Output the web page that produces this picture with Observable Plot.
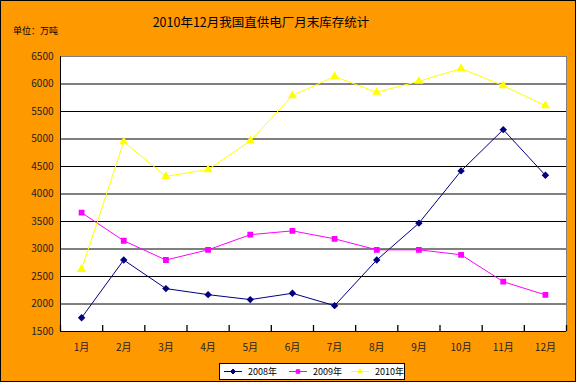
<!DOCTYPE html>
<html>
<head>
<meta charset="utf-8">
<script src="https://cdn.jsdelivr.net/npm/d3@7"></script>
<script src="https://cdn.jsdelivr.net/npm/@observablehq/plot@0.6"></script>
<style>
  html, body { margin: 0; padding: 0; background: #fff; }
  #wrap { position: relative; width: 579px; height: 386px; font-family: "Noto Sans CJK SC", sans-serif; }
  #frame { position: absolute; left: 0; top: 0; width: 574px; height: 380px; border: 1px solid #000; background: #FF9900; box-sizing: content-box; }
  #chart { position: absolute; left: 0; top: 0; }
  #title { position: absolute; left: 0; width: 522px; top: 12px; text-align: center; font-size: 12.5px; color: #000; }
  #unit { position: absolute; left: 13px; top: 24px; font-size: 9px; color: #000; }
  #legend { position: absolute; left: 219px; top: 363px; width: 184px; height: 15px; background: #fff; border: 1px solid #000; font-size: 9px; color: #000; }
  #legend .item { position: absolute; top: 0; height: 15px; line-height: 15px; }
  #legend svg { position: absolute; top: 0; }
</style>
</head>
<body>
<div id="wrap">
  <div id="frame"></div>
  <div id="chart"></div>
  <div id="title">2010年12月我国直供电厂月末库存统计</div>
  <div id="unit">单位：万吨</div>
  <div id="legend"></div>
</div>
<script>
const months = [1,2,3,4,5,6,7,8,9,10,11,12];
const monthLabels = ["1月","2月","3月","4月","5月","6月","7月","8月","9月","10月","11月","12月"];
const seriesNames = ["2008年","2009年","2010年"];
const v2008 = [1750, 2800, 2280, 2170, 2080, 2195, 1970, 2800, 3470, 4420, 5170, 4340];
const v2009 = [3660, 3150, 2800, 2985, 3260, 3330, 3185, 2985, 2985, 2895, 2405, 2165];
const v2010 = [2630, 4950, 4320, 4445, 4965, 5790, 6135, 5850, 6050, 6280, 5970, 5605];
const yTicks = [1500, 2000, 2500, 3000, 3500, 4000, 4500, 5000, 5500, 6000, 6500];
const colors = ["#000080", "#FF00FF", "#FFFF00"];
const symbols = ["diamond2", "square", "triangle"];

const values = [v2008, v2009, v2010];
const data = [];
seriesNames.forEach((s, i) => months.forEach((m, j) => data.push({series: s, month: m, value: values[i][j]})));
const boundaries = d3.range(0.5, months.length + 1, 1);

const plot = Plot.plot({
  width: 579,
  height: 386,
  marginLeft: 60,
  marginRight: 13,
  marginTop: 56,
  marginBottom: 55,
  style: { background: "transparent", fontFamily: "Noto Sans CJK SC, sans-serif", fontSize: "10px", color: "#222" },
  x: { type: "linear", domain: [0.5, 12.5] },
  y: { domain: [1500, 6500] },
  color: { domain: seriesNames, range: colors },
  symbol: { domain: seriesNames, range: symbols },
  marks: [
    Plot.frame({ fill: "#fff", stroke: "#808080" }),
    Plot.gridY(yTicks.slice(1, -1), { stroke: "#000", strokeOpacity: 1 }),
    Plot.axisY(yTicks, { tickSize: 0, tickPadding: 7, label: null, tickFormat: d => String(d), fill: "#222" }),
    Plot.axisX(months, { tickSize: 0, tickPadding: 12, label: null, tickFormat: d => monthLabels[d - 1], fill: "#222" }),
    Plot.ruleX(boundaries, { stroke: "#000", strokeWidth: 1.3, insetTop: 269 }),
    Plot.ruleX([0.5], { stroke: "#000" }),
    Plot.ruleY([1500], { stroke: "#000" }),
    Plot.line(data, { x: "month", y: "value", z: "series", stroke: "series", strokeWidth: 1 }),
    Plot.dot(data, { x: "month", y: "value", symbol: "series", fill: "series", stroke: "series", r: 2.4 })
  ]
});
document.getElementById("chart").appendChild(plot);

// Legend
const legend = d3.select("#legend");
const legendX = [3, 68, 130];
seriesNames.forEach((s, i) => {
  const svg = legend.append("svg").attr("width", 20).attr("height", 15).style("left", legendX[i] + "px");
  svg.append("line").attr("x1", 1).attr("x2", 19).attr("y1", 7.5).attr("y2", 7.5).attr("stroke", colors[i]).attr("stroke-width", 1);
  const type = i === 0 ? d3.symbolDiamond2 : i === 1 ? d3.symbolSquare2 : d3.symbolTriangle2;
  svg.append("path").attr("d", d3.symbol(type, 16)()).attr("transform", "translate(10,7.5)").attr("fill", colors[i]).attr("stroke", colors[i]);
  legend.append("div").attr("class", "item").style("left", (legendX[i] + 25) + "px").text(s);
});
</script>
</body>
</html>
